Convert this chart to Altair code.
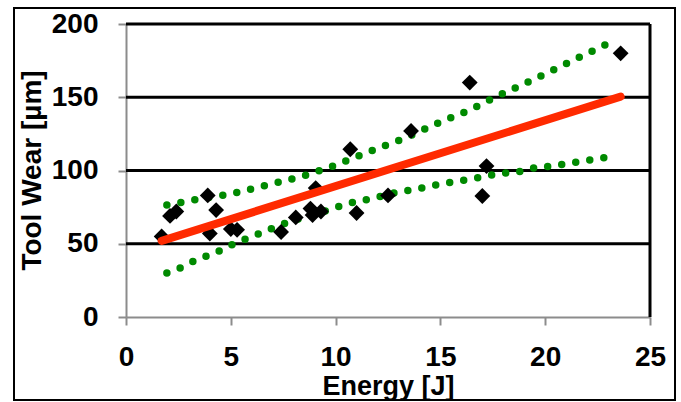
import altair as alt
import pandas as pd

# Measured data points (Energy [J], Tool Wear [µm])
energy = [1.7, 2.1, 2.4, 3.9, 4.3, 4.0, 5.0, 5.3, 7.4, 8.1, 8.8, 8.9, 9.3, 9.05,
          10.7, 11.0, 12.5, 13.6, 16.4, 17.2, 17.0, 23.6]
wear = [55, 69, 72, 83, 73, 57, 60, 59.5, 58, 68, 74, 69.6, 72, 88,
        114.5, 71, 83, 127, 160, 103, 82.6, 180]

# Linear fit line (end points)
fit_x = [1.7, 23.6]
fit_y = [52, 150.4]

# Upper confidence band
upper_x = [1.95, 3.3, 5.27, 6.54, 8.49, 9.81, 11.1, 12.43, 13.1, 15.03, 16.38,
           17.67, 18.97, 20.29, 21.59, 22.9]
upper_y = [76.5, 80, 84.9, 89.4, 96.5, 102.7, 109.9, 117.4, 121, 133.3, 141.3,
           150.4, 159, 167.9, 177, 186]

# Lower confidence band
lower_x = [1.95, 2.62, 3.29, 3.92, 4.6, 5.27, 5.87, 6.54, 7.89, 8.5, 9.8, 10.48,
           11.14, 11.78, 13.1, 13.73, 15.03, 16.38, 17.67, 18.97, 19.6, 20.29,
           21.59, 22.9]
lower_y = [30, 33.7, 38.5, 42, 46, 50.8, 54, 58, 65.5, 68, 73.7, 77, 79.2, 81,
           85.6, 87, 90.8, 94, 97.4, 99.9, 102.2, 103, 106, 108.9]

grid_vals = [50, 100, 150, 200]
x_ticks = [0, 5, 10, 15, 20, 25]
y_ticks = [0, 50, 100, 150, 200]

FONT = "Liberation Sans"
W, H = 524, 293

xscale = alt.Scale(domain=[0, 25], nice=False, zero=False)
yscale = alt.Scale(domain=[0, 200], nice=False, zero=False)

x_axis = alt.Axis(
    values=x_ticks, title="Energy [J]", grid=False,
    domainColor="#8c8c8c", domainWidth=2, tickColor="#8c8c8c", tickWidth=2, tickSize=8,
    labelFont=FONT, labelFontSize=28, labelFontWeight="bold", labelColor="black",
    labelPadding=18, labelFlush=False,
    titleFont=FONT, titleFontSize=27, titleFontWeight="bold", titleColor="black",
    titleY=56, titleBaseline="top")
y_axis = alt.Axis(
    values=y_ticks, title="Tool Wear [µm]", grid=False,
    domainColor="#8c8c8c", domainWidth=2, tickColor="#8c8c8c", tickWidth=2, tickSize=8,
    labelFont=FONT, labelFontSize=28, labelFontWeight="bold", labelColor="black",
    labelPadding=20, labelFlush=False,
    titleFont=FONT, titleFontSize=28, titleFontWeight="bold", titleColor="black",
    titleX=-80, titleY=146, titleAngle=270, titleBaseline="bottom")

X = alt.X("E:Q", scale=xscale, axis=x_axis)
Y = alt.Y("W:Q", scale=yscale, axis=y_axis)

pts = pd.DataFrame({"E": energy, "W": wear})
fit = pd.DataFrame({"E": fit_x, "W": fit_y})
up = pd.DataFrame({"E": upper_x, "W": upper_y, "o": range(len(upper_x))})
lo = pd.DataFrame({"E": lower_x, "W": lower_y, "o": range(len(lower_x))})
grid = pd.DataFrame({"W": grid_vals})
right = pd.DataFrame({"E": [25]})
one = pd.DataFrame({"a": [0]})

frame = alt.Chart(one).mark_rect(filled=False, stroke="black", strokeWidth=2, clip=False).encode(
    x=alt.value(-112), x2=alt.value(549), y=alt.value(-16), y2=alt.value(376)
)

grid_rules = alt.Chart(grid).mark_rule(color="black", strokeWidth=3).encode(y=Y)
right_rule = alt.Chart(right).mark_rule(color="black", strokeWidth=3).encode(x=X)

def band(df):
    return alt.Chart(df).mark_line(
        color="#008a00", strokeWidth=7.5, strokeCap="round", strokeDash=[0, 14.2],
        interpolate="monotone"
    ).encode(x=X, y=Y, order="o:Q")

scatter = alt.Chart(pts).mark_point(
    shape="diamond", filled=True, color="black", size=250, opacity=1
).encode(x=X, y=Y)

fit_line = alt.Chart(fit).mark_line(color="#ff2a00", strokeWidth=8, strokeCap="round").encode(x=X, y=Y)

chart = alt.layer(frame, grid_rules, right_rule, band(up), band(lo), scatter, fit_line).properties(
    width=W, height=H,
    autosize=alt.AutoSizeParams(type="none"),
    padding={"left": 126, "top": 24, "right": 31, "bottom": 85},
).configure_view(stroke=None).configure(background="white")

chart.save("out.html", embed_options={"renderer": "svg", "actions": False})
